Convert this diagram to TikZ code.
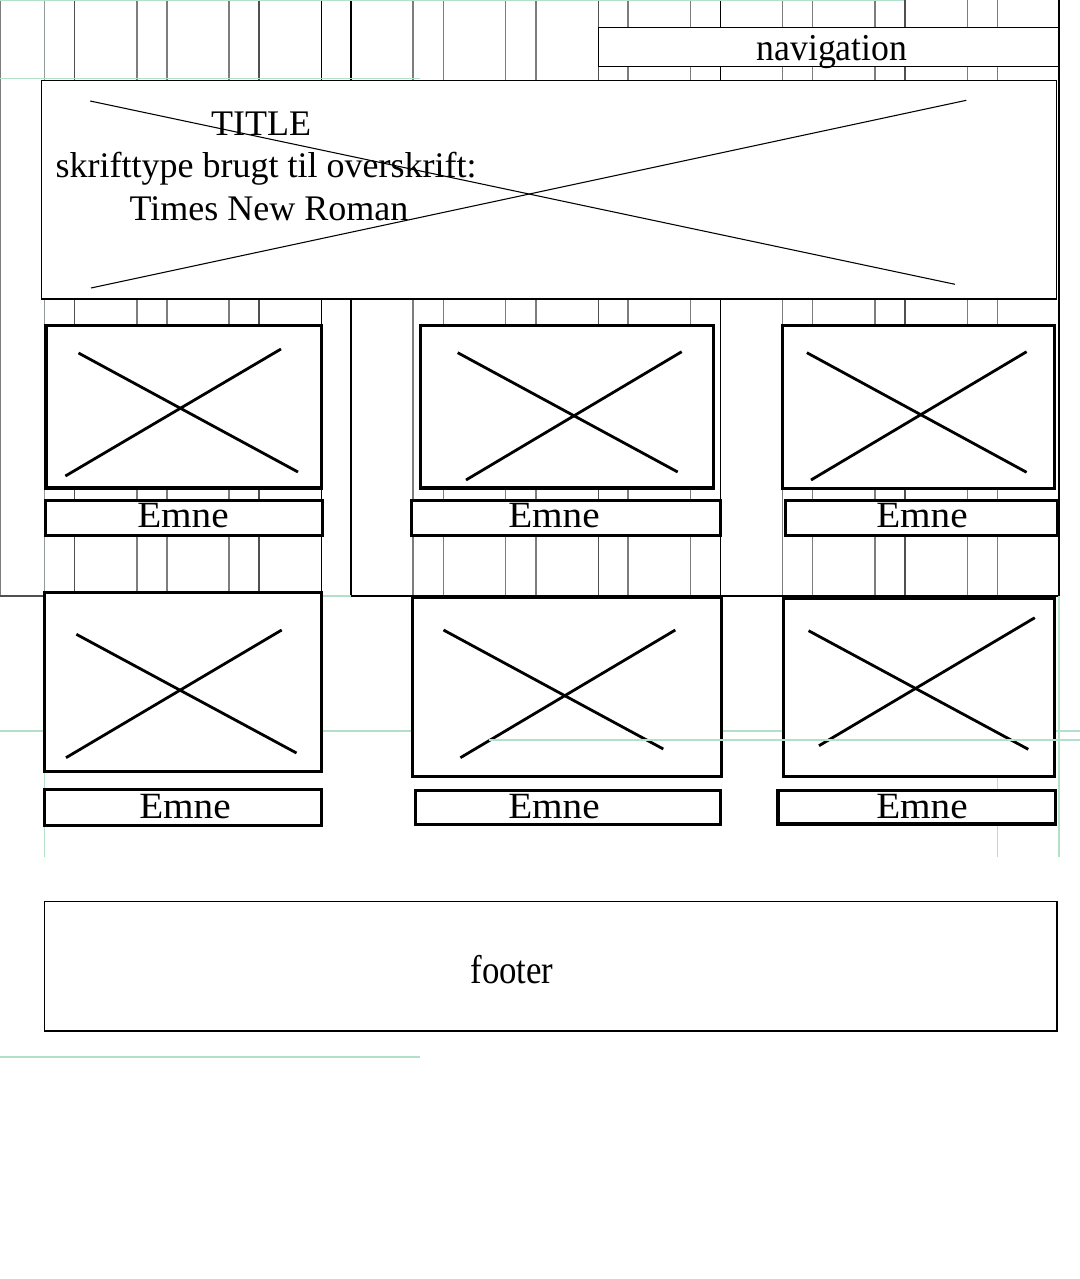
\documentclass[tikz,border=0pt]{standalone}
\usepackage{fontspec}
\setmainfont{Liberation Serif}
\definecolor{gridgray}{RGB}{125,125,125}
\definecolor{griddark}{RGB}{80,80,80}
\definecolor{guidegreen}{RGB}{178,224,200}
\tikzset{
  gridline/.style={draw=gridgray, line width=0.8pt},
  griddarkline/.style={draw=griddark, line width=0.8pt},
  gridblack/.style={draw=black, line width=0.8pt},
  guide/.style={draw=guidegreen, line width=0.8pt},
  thinbox/.style={draw=black, fill=white, line width=0.85pt},
  thickbox/.style={draw=black, fill=white, line width=2.4pt},
  crossline/.style={draw=black, line width=2.1pt},
  thincross/.style={draw=black, line width=0.8pt},
  lbl/.style={anchor=base, inner sep=0pt, outer sep=0pt},
  bigtxt/.style={lbl, font=\fontsize{27}{27}\selectfont},
  emnetxt/.style={lbl, font=\fontsize{27.75}{27.75}\selectfont, xscale=1.06},
  navtxt/.style={lbl, font=\fontsize{28.5}{28.5}\selectfont, xscale=0.94},
  foottxt/.style={lbl, font=\fontsize{30}{30}\selectfont, xscale=0.87}
}
\begin{document}
\begin{tikzpicture}[x=0.75pt,y=-0.75pt]
\useasboundingbox (0,0) rectangle (1080,1279);
\fill[white] (0,0) rectangle (1080,1279);

% ---- column grid (background) ----
\foreach \gx in {0.5,137,167,229,413,443.5,505.8,536,628,690.5,782.8,812.7,875,967.4,997.3}
  \draw[gridline] (\gx,0) -- (\gx,596);
\foreach \gx in {74.7,259,598.5,905}
  \draw[griddarkline] (\gx,0) -- (\gx,596);
\foreach \gx in {321.3,351,720.5,1059}
  \draw[gridblack] (\gx,0) -- (\gx,596);
\draw[draw=gray!70!guidegreen, line width=0.8pt] (44.8,0) -- (44.8,596);
\draw[griddarkline] (0,596) -- (321.3,596);
\draw[gridblack] (351,596) -- (1059,596);
\draw[guide] (321.3,596) -- (351,596);

% ---- guides under the boxes ----
\draw[guide] (0,0.6) -- (904,0.6);
\draw[guide] (0,78.7) -- (420,78.7);
\draw[guide] (0,731) -- (1080,731);
\draw[guide] (44.8,596) -- (44.8,857);
\draw[guide] (997.3,596) -- (997.3,857);
\draw[guide] (1059,596) -- (1059,857);
\draw[guide] (0,1057) -- (420,1057);

% ---- navigation ----
\draw[thinbox] (598.5,27.4) rectangle (1059,66.3);
\node[navtxt] (navtext) at (832,60) {navigation};

% ---- title banner ----
\draw[thinbox] (41.3,80.3) rectangle (1056.5,299);
\draw[thincross] (90.2,101) -- (955,284.3);
\draw[thincross] (91,288) -- (966.3,100.3);
\node[bigtxt] (title1) at (261,135.5) {TITLE};
\node[bigtxt] (title2) at (266,177.5) {skrifttype brugt til overskrift:};
\node[bigtxt] (title3) at (269,220.5) {Times New Roman};

% ---- row 1 ----
\draw[thickbox] (46,325.3) rectangle (321.3,488);
\draw[crossline] (78.5,353) -- (298,472);
\draw[crossline] (65.4,476) -- (281,349);
\draw[thickbox] (45.5,500.7) rectangle (322.6,535.3);
\node[emnetxt] (emne1) at (183,527) {Emne};

\draw[thickbox] (420.5,325.3) rectangle (713.7,488);
\draw[crossline] (457.7,352.7) -- (677.7,472);
\draw[crossline] (466,480) -- (681.7,351.7);
\draw[thickbox] (411.3,500.3) rectangle (720.7,535.3);
\node[emnetxt] (emne2) at (554,527) {Emne};

\draw[thickbox] (782.8,325.3) rectangle (1054.4,488.3);
\draw[crossline] (806.9,352.7) -- (1026.6,472.3);
\draw[crossline] (811,480) -- (1026.6,351.7);
\draw[thickbox] (785.5,500.3) rectangle (1057.9,535.3);
\node[emnetxt] (emne3) at (922,527) {Emne};

% ---- row 2 ----
\draw[thickbox] (44.4,592.7) rectangle (321.6,771.3);
\draw[crossline] (76.4,634.3) -- (296.5,753);
\draw[crossline] (66,757.7) -- (281.7,630);
\draw[thickbox] (44.4,789.7) rectangle (321.6,825.3);
\node[emnetxt] (emne4) at (185,818) {Emne};

\draw[thickbox] (412.2,597.3) rectangle (721.2,776.7);
\draw[crossline] (443.5,630) -- (663.3,749);
\draw[crossline] (460.4,757.7) -- (675.3,630);
\draw[thickbox] (415.3,790.7) rectangle (720.4,824.7);
\node[emnetxt] (emne5) at (554,818) {Emne};

\draw[thickbox] (783.4,598) rectangle (1054.4,776.7);
\draw[crossline] (808.6,630.7) -- (1028.3,749.3);
\draw[crossline] (819,745.7) -- (1034.8,617.7);
\draw[thickbox] (778,790.7) rectangle (1055.1,824);
\node[emnetxt] (emne6) at (922,818) {Emne};

% ---- guide drawn over the boxes ----
\draw[guide] (489,740) -- (1080,740);

% ---- footer ----
\draw[thinbox] (44.8,901.3) rectangle (1057,1031);
\node[foottxt] (footertext) at (512,983) {footer};
\end{tikzpicture}
\end{document}
